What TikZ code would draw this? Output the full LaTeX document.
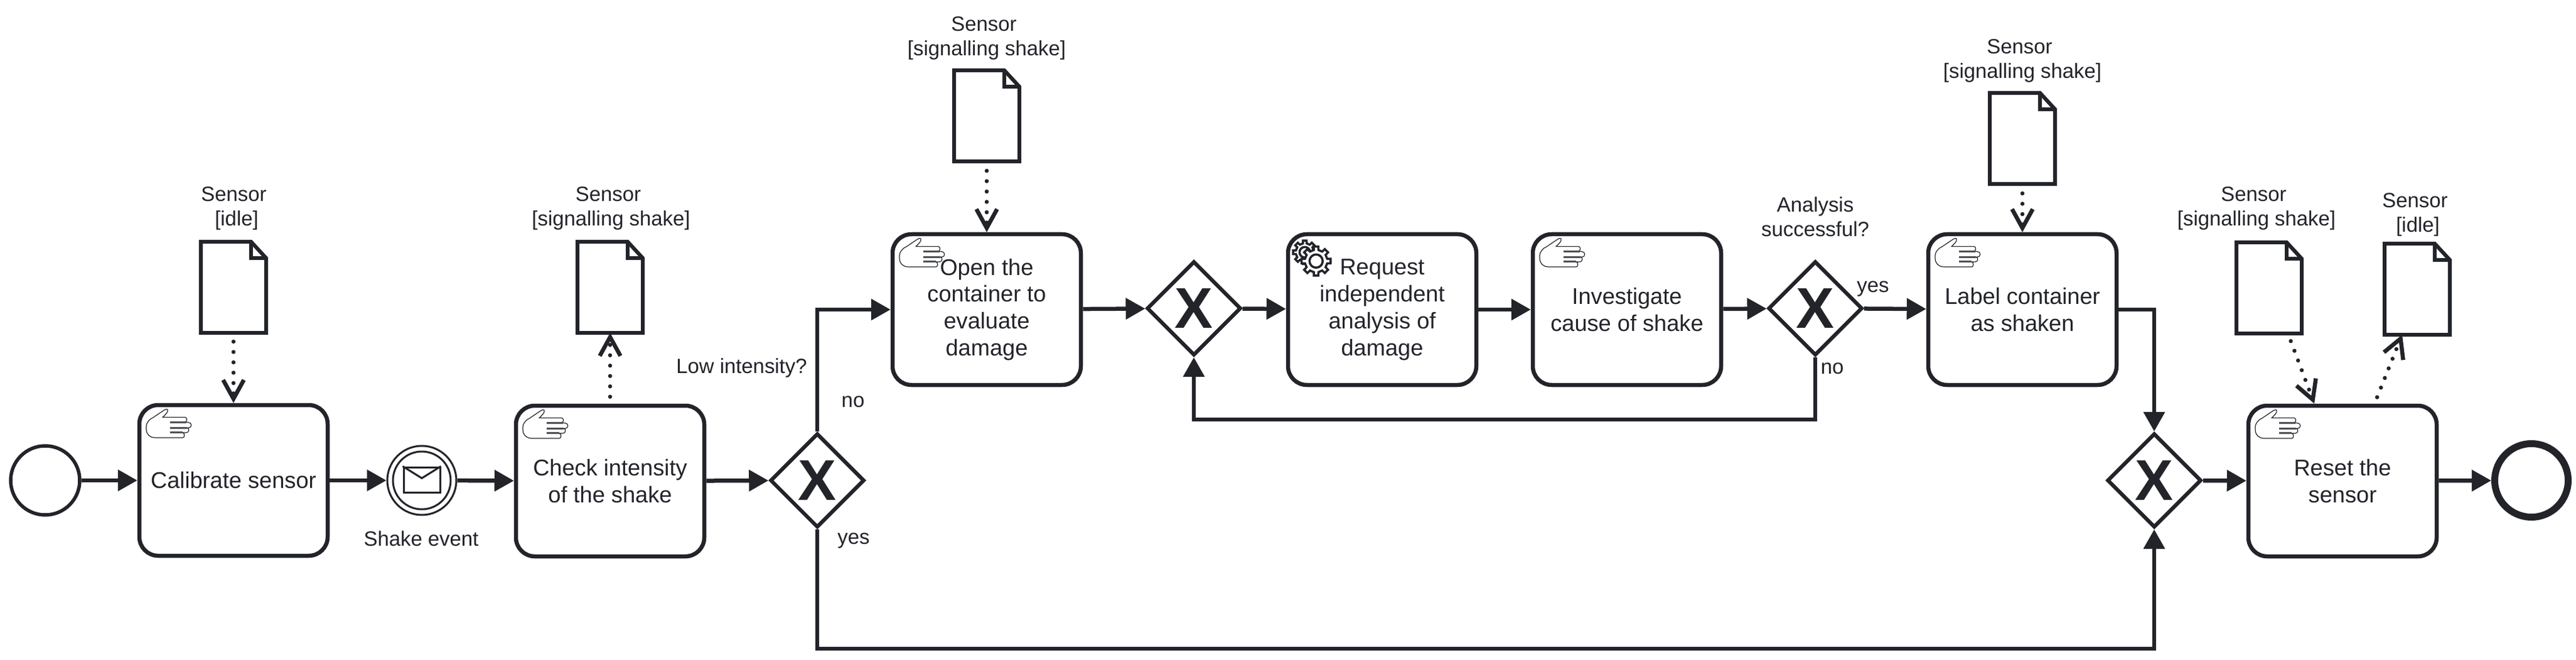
\documentclass[tikz,border=0pt]{standalone}
\usepackage{fontspec}
\setmainfont{Liberation Sans}
\usetikzlibrary{arrows.meta, shapes.geometric}
\definecolor{ink}{HTML}{22242A}
\tikzset{
	every node/.style={text=ink},
	task/.style={draw=ink, line width=.065cm, rectangle, rounded corners=.3cm, minimum width=3.0cm, minimum height=2.4cm, align=center, font=\fontsize{10.3}{12.2}\selectfont},
	gateway/.style={draw=ink, fill=white, line width=.06cm, diamond, aspect=1, inner sep=0pt, minimum width=1.5cm, minimum height=1.5cm, font=\fontsize{26}{26}\selectfont\bfseries},
	ring/.style={draw=ink, line width=.03cm, circle, inner sep=0pt},
	datadoc/.style={rectangle, inner sep=0pt, outer sep=0pt, minimum width=1.04cm, minimum height=1.45cm},
	docline/.style={draw=ink, line width=.06cm, line join=miter},
	caption/.style={align=center, inner sep=0pt, font=\fontsize{9.35}{11.1}\selectfont},
	flow/.style={draw=ink, line width=.065cm, -{Triangle[length=.31cm, width=.33cm]}},
	dotflow/.style={draw=ink, line width=.065cm, line cap=round, dash pattern=on 0pt off .165cm, -{Straight Barb[length=.3cm, width=.33cm]}},
	handicon/.pic={
		\begin{scope}[x=.00333cm, y=-.00333cm]
			\draw[ink, line width=.012cm, fill=white] (145, 31) .. controls (150, 42) and (135, 55) .. (122, 68) -- (228, 68) .. controls (240, 68) and (240, 91) .. (228, 91) -- (245, 93) .. controls (263, 93) and (263, 119) .. (245, 119) -- (238, 119) .. controls (250, 119) and (250, 142) .. (235, 142) -- (218, 142) .. controls (228, 145) and (228, 166) .. (218, 166) -- (85, 166) .. controls (60, 166) and (43, 150) .. (43, 125) -- (43, 110) .. controls (43, 95) and (60, 75) .. (75, 70) -- (130, 33) .. controls (135, 29) and (142, 29) .. (145, 31) -- cycle;
			\draw[ink!80, line width=.025cm] (158, 92) to (235, 92);
			\draw[ink!80, line width=.025cm] (158, 119) to (238, 119);
			\draw[ink!80, line width=.03cm] (158, 142) to (218, 142);
		\end{scope}
	},
	gearwheel/.pic={
		\draw[ink, line width=.035cm, fill=white] (-12:.18) \foreach \a in {0, 45, ..., 315} { -- (\a-12:.18) -- (\a-9:.235) -- (\a+9:.235) -- (\a+12:.18)} -- cycle;
		\draw[ink, line width=.035cm] (0, 0) circle (.105);
	}
}
\newcommand{\sensorword}{Sensor\kern.09cm}
\begin{document}
\begin{tikzpicture}
	\useasboundingbox (0, 0) rectangle (41.04, 10.5);

	%events and tasks%
	\node[ring, line width=.055cm, minimum size=1.1cm] (start) at (.72, 2.85) {};
	\node[task] (calibrate) at (3.72, 2.85) {Calibrate sensor};
	\node[ring, minimum size=1.1cm] (shake) at (6.72, 2.85) {};
	\node[ring, minimum size=.92cm] (shakein) at (6.72, 2.85) {};
	\node[draw=ink, line width=.03cm, inner sep=0pt, minimum width=.58cm, minimum height=.4cm] (mail) at (6.72, 2.86) {};
	\draw[ink, line width=.03cm] (mail.north west) to ([yshift=-.19cm]mail.north) to (mail.north east);
	\node[caption] (shakelabel) at (6.71, 1.92) {Shake event};
	\node[task] (intensity) at (9.72, 2.84) {Check intensity\\of the shake};
	\node[gateway] (lowgate) at (13.02, 2.85) {X};
	\node[task] (openbox) at (15.72, 5.57) {Open the\\container to\\evaluate\\damage};
	\node[gateway] (mergegate) at (19.02, 5.59) {X};
	\node[task] (request) at (22.02, 5.57) {Request\\independent\\analysis of\\damage};
	\node[task] (investigate) at (25.92, 5.57) {Investigate\\cause of shake};
	\node[gateway] (okgate) at (28.92, 5.59) {X};
	\node[task] (labelbox) at (32.22, 5.57) {Label container\\as shaken};
	\node[gateway] (endgate) at (34.32, 2.85) {X};
	\node[task] (reset) at (37.32, 2.84) {Reset the\\sensor};
	\node[ring, line width=.11cm, minimum size=1.17cm] (finish) at (40.33, 2.85) {};

	%sensor documents%
	\node[datadoc] (doca) at (3.72, 5.925) {};
	\node[datadoc] (docb) at (9.72, 5.925) {};
	\node[datadoc] (docc) at (15.72, 8.655) {};
	\node[datadoc] (docd) at (32.22, 8.295) {};
	\node[datadoc] (doce) at (36.15, 5.915) {};
	\node[datadoc] (docf) at (38.51, 5.895) {};
	\foreach \d in {doca, docb, docc, docd, doce, docf} {
		\draw[docline] (\d.north west) -- ([xshift=-.24cm]\d.north east) -- ([yshift=-.26cm]\d.north east) -- (\d.south east) -- (\d.south west) -- cycle;
		\draw[docline] ([xshift=-.24cm]\d.north east) |- ([yshift=-.26cm]\d.north east);
	}
	\node[caption] (labela) at (3.77, 7.18) {\sensorword\\{[}idle{]}};
	\node[caption] (labelb) at (9.735, 7.18) {\sensorword\\{[}signalling shake{]}};
	\node[caption] (labelc) at (15.72, 9.89) {\sensorword\\{[}signalling shake{]}};
	\node[caption] (labeld) at (32.22, 9.53) {\sensorword\\{[}signalling shake{]}};
	\node[caption] (labele) at (35.95, 7.18) {\sensorword\\{[}signalling shake{]}};
	\node[caption] (labelf) at (38.52, 7.08) {\sensorword\\{[}idle{]}};

	%gateway labels%
	\node[caption] (lowq) at (11.815, 4.64) {Low intensity?};
	\node[caption] (lowno) at (13.59, 4.10) {no};
	\node[caption] (lowyes) at (13.60, 1.89) {yes};
	\node[caption] (okq) at (28.92, 7.05) {Analysis\\successful?};
	\node[caption] (okyes) at (29.84, 5.90) {yes};
	\node[caption] (okno) at (29.19, 4.63) {no};

	%icons%
	\foreach \t in {calibrate, intensity, openbox, investigate, labelbox, reset} {
		\pic at (\t.north west) {handicon};
	}
	\pic[scale=.8] at ([xshift=.30cm, yshift=-.32cm]request.north west) {gearwheel};
	\pic at ([xshift=.48cm, yshift=-.46cm]request.north west) {gearwheel};

	%flows%
	\draw[flow] (start) to (calibrate);
	\draw[flow] (calibrate) to (shake);
	\draw[flow] (shake) to (intensity);
	\draw[flow] (intensity) to (lowgate);
	\draw[flow] (lowgate.north) |- (openbox.west);
	\draw[flow] (openbox) to (mergegate);
	\draw[flow] (mergegate) to (request);
	\draw[flow] (request) to (investigate);
	\draw[flow] (investigate) to (okgate);
	\draw[flow] (okgate) to (labelbox);
	\draw[flow] (okgate.south) -- ++(0, -.99) -| (mergegate.south);
	\draw[flow] (labelbox.east) -| (endgate.north);
	\draw[flow] (lowgate.south) -- ++(0, -1.9) -| (endgate.south);
	\draw[flow] (endgate) to (reset);
	\draw[flow] (reset) to (finish);

	%data links%
	\draw[dotflow, shorten <=.14cm] (doca.south) to (calibrate.north);
	\draw[dotflow, shorten <=.11cm] (intensity.north) to (docb.south);
	\draw[dotflow, shorten <=.15cm] (docc.south) to (openbox.north);
	\draw[dotflow, shorten <=.15cm] (docd.south) to (labelbox.north);
	\draw[dotflow, shorten <=.13cm] ([xshift=.30cm]doce.south) to ([xshift=-.45cm]reset.north);
	\draw[dotflow, shorten <=.11cm] ([xshift=.51cm]reset.north) to ([xshift=-.24cm]docf.south);
\end{tikzpicture}
\end{document}
